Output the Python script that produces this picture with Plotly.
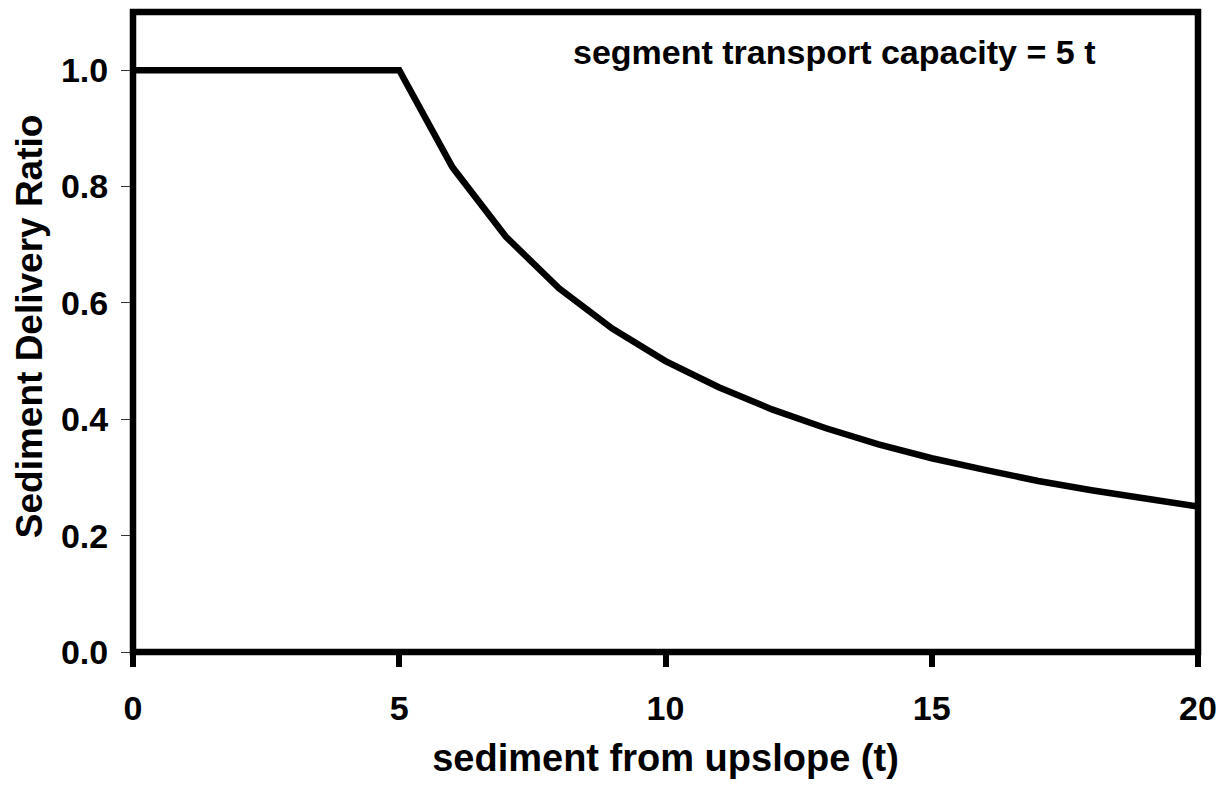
import plotly.graph_objects as go

sediment_upslope = [0, 1, 2, 3, 4, 5, 6, 7, 8, 9, 10, 11, 12, 13, 14, 15, 16, 17, 18, 19, 20]
delivery_ratio = [1.0, 1.0, 1.0, 1.0, 1.0, 1.0, 0.833, 0.714, 0.625, 0.556, 0.5,
                  0.455, 0.417, 0.385, 0.357, 0.333, 0.313, 0.294, 0.278, 0.263, 0.25]
x_ticks = [0, 5, 10, 15, 20]
y_ticks = [0.0, 0.2, 0.4, 0.6, 0.8, 1.0]

FONT = "Liberation Sans, Arial, sans-serif"

fig = go.Figure()
fig.add_trace(go.Scatter(x=sediment_upslope, y=delivery_ratio, mode="lines",
                         line=dict(color="black", width=6.5), showlegend=False))

# page body has an 8px margin, so figure is sized/margined to land the plot box at 133..1198 x 12..652
fig.update_layout(
    width=1224, height=777,
    margin=dict(l=125, r=34, t=4, b=133, autoexpand=False),
    paper_bgcolor="white", plot_bgcolor="white",
    font=dict(family=FONT, color="black", size=34, weight="bold"),
    xaxis=dict(range=[0, 20], tickvals=x_ticks, ticktext=[str(v) for v in x_ticks],
               showgrid=False, zeroline=False, showline=False,
               ticks="outside", ticklen=14, tickwidth=6, tickcolor="black",
               ticklabelstandoff=12,
               tickfont=dict(size=34, family=FONT, weight="bold"),
               title=dict(text="sediment from upslope (t)",
                          font=dict(size=38, family=FONT, weight="bold"), standoff=18)),
    yaxis=dict(range=[0, 1.1], tickvals=y_ticks, ticktext=[f"{v:.1f}" for v in y_ticks],
               showgrid=False, zeroline=False, showline=False,
               ticks="outside", ticklen=11, tickwidth=1, tickcolor="#333333",
               ticklabelstandoff=6,
               tickfont=dict(size=34, family=FONT, weight="bold")),
    shapes=[dict(type="rect", xref="paper", yref="paper", x0=0, x1=1, y0=0, y1=1,
                 line=dict(color="black", width=6.5), layer="above")],
    annotations=[
        dict(text="segment transport capacity = 5 t", x=13.16, y=1.031,
             xref="x", yref="y", showarrow=False,
             font=dict(size=34, family=FONT, weight="bold")),
        dict(text="Sediment Delivery Ratio", x=-0.0977, y=0.509,
             xref="paper", yref="paper", showarrow=False, textangle=-90,
             xanchor="center", yanchor="middle",
             font=dict(size=37, family=FONT, weight="bold")),
    ],
)

fig.write_html("out.html")
